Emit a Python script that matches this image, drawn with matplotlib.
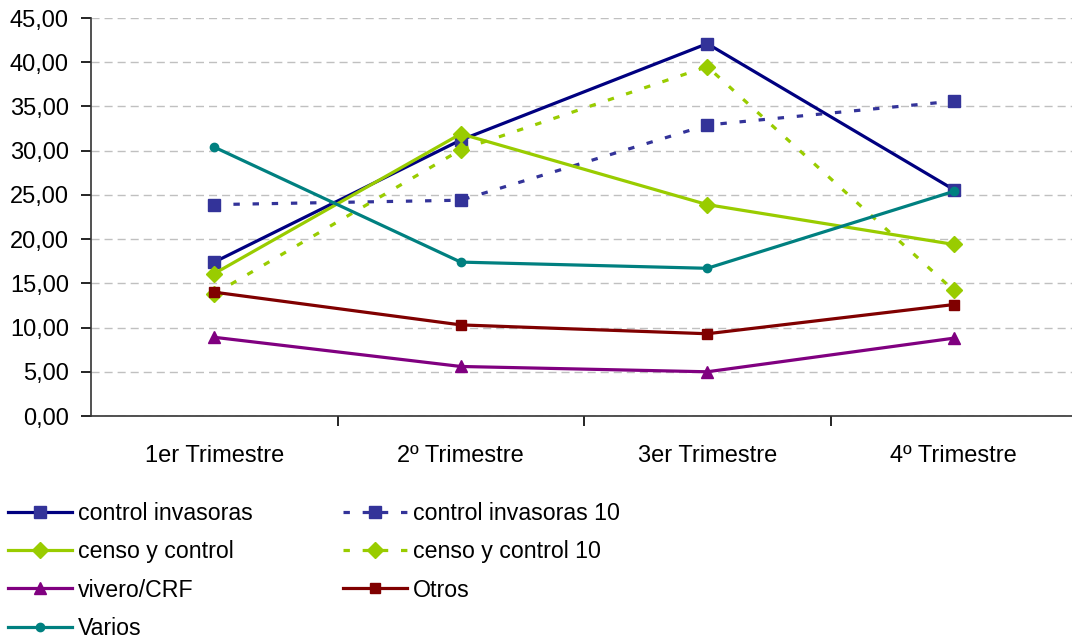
import matplotlib
matplotlib.use("Agg")
import matplotlib.pyplot as plt
from matplotlib.ticker import FuncFormatter, FixedLocator

plt.rcParams['font.family'] = ['Liberation Sans', 'DejaVu Sans']

trimestres = ['1er Trimestre', '2º Trimestre', '3er Trimestre', '4º Trimestre']

control_invasoras = [17.4, 31.2, 42.1, 25.6]
control_invasoras_10 = [23.9, 24.4, 32.9, 35.6]
censo_control = [16.1, 31.9, 23.9, 19.4]
censo_control_10 = [13.8, 30.1, 39.5, 14.2]
vivero_crf = [8.9, 5.6, 5.0, 8.8]
otros = [14.0, 10.3, 9.3, 12.6]
varios = [30.4, 17.4, 16.7, 25.4]

fig = plt.figure(figsize=(10.72, 6.39), dpi=100)
ax = fig.add_axes([91/1072, 1 - 416/639, 986/1072, 398/639])

x = range(len(trimestres))
dash = (0, (2, 4))

h1, = ax.plot(x, control_invasoras, color='#000080', lw=2.3, marker='s', ms=9,
              mfc='#333399', mec='#333399', label='control invasoras')
h2, = ax.plot(x, control_invasoras_10, color='#333399', lw=2.3, ls=dash, marker='s', ms=9,
              mfc='#333399', mec='#333399', label='control invasoras 10')
h3, = ax.plot(x, censo_control, color='#99CC00', lw=2.3, marker='D', ms=8,
              mfc='#99CC00', mec='#99CC00', label='censo y control')
h4, = ax.plot(x, censo_control_10, color='#99CC00', lw=2.3, ls=dash, marker='D', ms=8,
              mfc='#99CC00', mec='#99CC00', label='censo y control 10')
h5, = ax.plot(x, vivero_crf, color='#800080', lw=2.3, marker='^', ms=8,
              mfc='#800080', mec='#800080', label='vivero/CRF')
h6, = ax.plot(x, otros, color='#800000', lw=2.3, marker='s', ms=6.5,
              mfc='#800000', mec='#800000', label='Otros')
h7, = ax.plot(x, varios, color='#008080', lw=2.3, marker='o', ms=6,
              mfc='#008080', mec='#008080', label='Varios')

ax.set_xlim(-0.5, 3.5)
ax.set_ylim(0, 45)
ax.set_yticks(range(0, 46, 5))
ax.yaxis.set_major_formatter(FuncFormatter(lambda v, p: f'{v:.2f}'.replace('.', ',')))
ax.set_xticks(list(x))
ax.set_xticklabels(trimestres)
ax.xaxis.set_minor_locator(FixedLocator([0.5, 1.5, 2.5]))
ax.tick_params(axis='x', which='major', length=0, pad=21, labelsize=17)
ax.tick_params(axis='x', which='minor', length=7, direction='out', width=1.2)
ax.tick_params(axis='y', length=7, width=1.2, labelsize=17, pad=9)

ax.yaxis.grid(True, color='#c0c0c0', ls=(0, (5.8, 3.6)), lw=1)
ax.set_axisbelow(True)
for s in ['top', 'right']:
    ax.spines[s].set_visible(False)
for s in ['left', 'bottom']:
    ax.spines[s].set_linewidth(1.2)
    ax.spines[s].set_color('#333333')

handles = [h1, h3, h5, h7, h2, h4, h6]
fig.legend(handles=handles, labels=[h.get_label() for h in handles], ncol=2,
           loc='upper left', bbox_to_anchor=(8/1072, 1 - 502/639), frameon=False,
           fontsize=16.7, handlelength=2.75, handletextpad=0.26, labelspacing=0.66,
           columnspacing=3.9, borderaxespad=0, borderpad=0)

fig.savefig('out.png', dpi=100)
